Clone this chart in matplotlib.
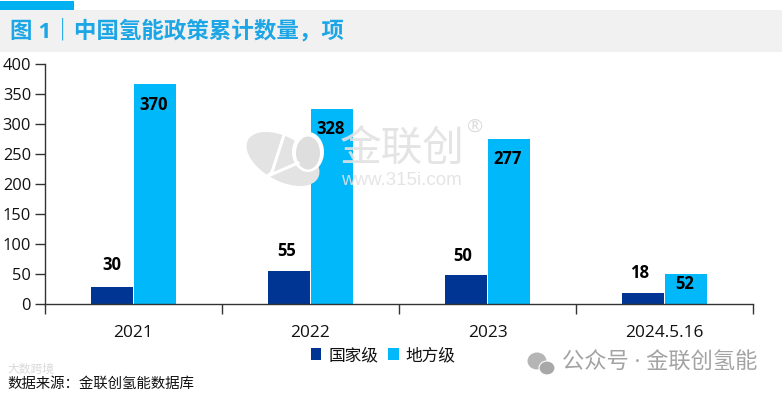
import matplotlib
matplotlib.use("Agg")
import matplotlib.pyplot as plt
from matplotlib.patches import Rectangle, Ellipse
from matplotlib.lines import Line2D
import numpy as np

plt.rcParams['font.family'] = ['Open Sans', 'Noto Sans CJK SC', 'DejaVu Sans']

categories = ['2021', '2022', '2023', '2024.5.16']
national_heights = [28, 55, 48, 18]
local_heights = [367, 325, 275, 50]
national_labels = ['30', '55', '50', '18']
local_labels = ['370', '328', '277', '52']
yticks = [0, 50, 100, 150, 200, 250, 300, 350, 400]

W, H = 782, 394
NAVY, CYAN = '#003594', '#00B8FA'
fig = plt.figure(figsize=(W/100, H/100), dpi=100)
def fx(p): return p / W
def fy(p): return 1 - p / H

# header
fig.add_artist(Rectangle((0, fy(52)), 1, 42/H, transform=fig.transFigure, color='#F1F1F1', lw=0))
fig.add_artist(Rectangle((0, fy(10)), 74/W, 9/H, transform=fig.transFigure, color='#00B0F0', lw=0))
fig.text(fx(10), fy(31), '图 1｜中国氢能政策累计数量，项', color='#1CA6E6', fontsize=16.2,
         fontweight='bold', va='center', ha='left')

ax = fig.add_axes([fx(45), fy(304), 708/W, 240/H])
x = np.arange(len(categories))
w = 42/177
gap = 0.5/177
shift = -0.2/177
ax.bar(x - w/2 - gap + shift, national_heights, w, color=NAVY, label='国家级', zorder=2)
ax.bar(x + w/2 + gap + shift, local_heights, w, color=CYAN, label='地方级', zorder=2)
ax.set_xlim(-0.5, 3.5)
ax.set_ylim(0, 400)
ax.set_yticks(yticks)
ax.set_xticks(np.arange(-0.5, 4, 1))
ax.set_xticklabels([])
ax.tick_params(axis='x', length=7, width=1, color='#333333', direction='out')
ax.tick_params(axis='y', length=7, width=1, color='#333333', direction='out', labelsize=11.8, pad=3, labelcolor='#111111')
for s in ['top', 'right']:
    ax.spines[s].set_visible(False)
for s in ['left', 'bottom']:
    ax.spines[s].set_color('#333333')
    ax.spines[s].set_linewidth(1)
for i, c in enumerate(categories):
    ax.annotate(c, (i, 0), xytext=(0, -15), textcoords='offset points', ha='center', va='top',
                fontsize=12.4, color='#111111', annotation_clip=False)

nat_dy = [13, 11, 10, 11]
nat_dx = [0, -2, -3, -3]
loc_dy = [-21, -20, -20, -10]
for i in range(len(categories)):
    ax.annotate(national_labels[i], (x[i] - w/2 - gap, national_heights[i]), xytext=(nat_dx[i], nat_dy[i]),
                textcoords='offset pixels', ha='center', va='bottom', fontsize=12, fontweight='bold', color='black', zorder=5)
    ax.annotate(local_labels[i], (x[i] + w/2 + gap, local_heights[i]), xytext=(-1, loc_dy[i]),
                textcoords='offset pixels', ha='center', va='center', fontsize=12, fontweight='bold', color='black', zorder=5)

ax.legend(loc='center', bbox_to_anchor=(fx(383), fy(356)), bbox_transform=fig.transFigure, ncol=2,
          frameon=False, fontsize=12, handlelength=0.65, handleheight=0.7, handletextpad=0.4,
          columnspacing=0.6, labelcolor='#111111')

# watermark logo
fig.add_artist(Ellipse((fx(283), fy(159)), 60/W, 58/H, angle=25, transform=fig.transFigure, color='#E3E3E3', lw=0, zorder=6))
fig.add_artist(Ellipse((fx(308), fy(152)), 32/W, 40/H, transform=fig.transFigure, color='white', lw=0, zorder=6))
fig.add_artist(Ellipse((fx(308), fy(153)), 24/W, 33/H, transform=fig.transFigure, color='#DEDEDE', lw=0, zorder=6))
fig.add_artist(Line2D([fx(284), fx(272), fx(268), fx(298)], [fy(135), fy(172), fy(176), fy(163)],
                      transform=fig.transFigure, color='white', lw=2.2, zorder=6))
# watermark text
fig.text(fx(340), fy(151), '金联创', fontsize=30, color='#E2E2E2', alpha=0.9, va='center', ha='left', zorder=7)
fig.text(fx(341), fy(180), 'www.315i.com', fontsize=13.5, color='#E2E2E2', alpha=0.9, va='center', ha='left', zorder=7, family='Liberation Sans')
fig.text(fx(467), fy(127), '®', fontsize=14, color='#DDDDDD', va='center', ha='left', zorder=7)

# footer
fig.text(fx(7), fy(369), '大数跨境', fontsize=8.5, color='#DADADA', va='center', ha='left')
fig.text(fx(7), fy(384), '数据来源：金联创氢能数据库', fontsize=10.4, color='#111111', va='center', ha='left')

# wechat mark
fig.add_artist(Ellipse((fx(537), fy(361)), 19/W, 17/H, transform=fig.transFigure, color='#B5B5B5', lw=0))
fig.add_artist(Ellipse((fx(547), fy(368)), 16/W, 14/H, transform=fig.transFigure, facecolor='#A8A8A8', edgecolor='white', lw=0.8))
fig.text(fx(562), fy(363), '公众号 · 金联创氢能', fontsize=16, color='#A3A3A3', va='center', ha='left')

fig.savefig('out.png', dpi=100)
